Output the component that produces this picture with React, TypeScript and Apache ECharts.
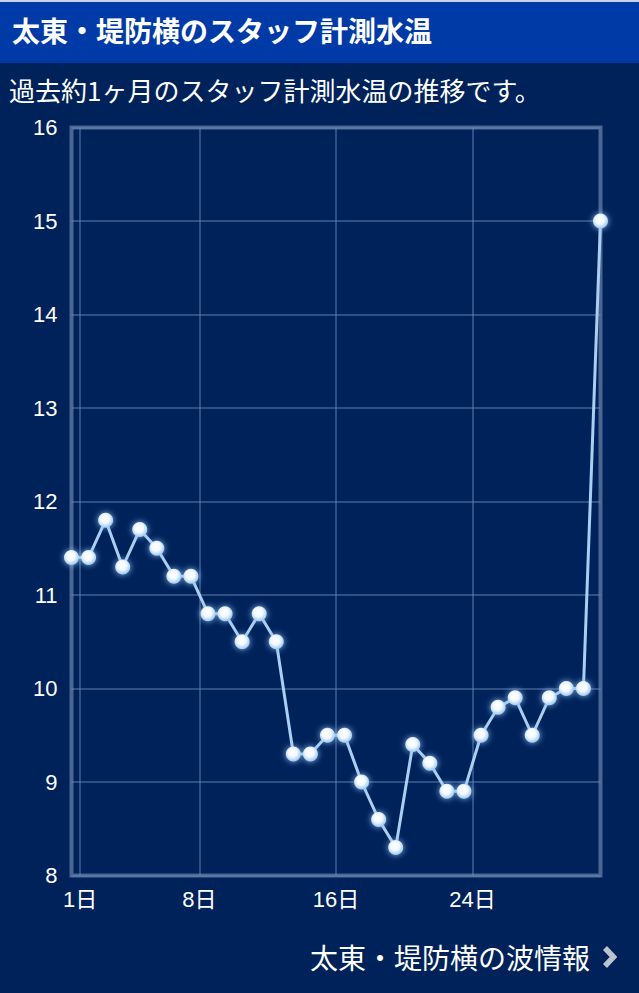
import React, { useEffect, useRef } from "react";
import * as echarts from "echarts";

const titleText = "太東・堤防横のスタッフ計測水温";
const subtitleText = "過去約1ヶ月のスタッフ計測水温の推移です。";
const footerText = "太東・堤防横の波情報";

// day offsets from the 1st (00:00); readings taken around noon each day
const dayOffsets = [
  -0.5, 0.5, 1.5, 2.5, 3.5, 4.5, 5.5, 6.5, 7.5, 8.5, 9.5, 10.5, 11.5, 12.5, 13.5, 14.5,
  15.5, 16.5, 17.5, 18.5, 19.5, 20.5, 21.5, 22.5, 23.5, 24.5, 25.5, 26.5, 27.5, 28.5, 29.5, 30.5,
];
const temps = [
  11.4, 11.4, 11.8, 11.3, 11.7, 11.5, 11.2, 11.2, 10.8, 10.8, 10.5, 10.8, 10.5, 9.3, 9.3, 9.5,
  9.5, 9.0, 8.6, 8.3, 9.4, 9.2, 8.9, 8.9, 9.5, 9.8, 9.9, 9.5, 9.9, 10.0, 10.0, 15.0,
];
const xTickOffsets = [0, 7, 15, 23];
const xTickLabels = ["1日", "8日", "16日", "24日"];

const BG = "#00225a";
const HEADER = "#003aa6";
const CJK = "'Noto Sans CJK JP', sans-serif";
const NUM = "'Liberation Sans', Arial, 'Noto Sans CJK JP', sans-serif";

export default function App() {
  const ref = useRef<HTMLDivElement>(null);
  useEffect(() => {
    document.body.style.margin = "0";
    document.body.style.background = BG;
    const chart = echarts.init(ref.current!, undefined, { renderer: "svg" });
    const markerColor = new echarts.graphic.RadialGradient(0.45, 0.4, 0.6, [
      { offset: 0, color: "#ffffff" },
      { offset: 0.5, color: "#f2f8ff" },
      { offset: 1, color: "#9bc7f0" },
    ]);
    chart.setOption({
      animation: false,
      backgroundColor: BG,
      graphic: [
        { type: "rect", shape: { x: 0, y: 0, width: 639, height: 63 }, style: { fill: HEADER }, z: 0 },
        { type: "rect", shape: { x: 0, y: 0, width: 639, height: 2 }, style: { fill: "#c9d2e4" }, z: 1 },
        {
          type: "text",
          x: 12,
          y: 30,
          style: {
            text: titleText,
            fill: "#ffffff",
            font: `bold 28px ${CJK}`,
            textVerticalAlign: "middle",
          },
          z: 2,
        },
        {
          type: "text",
          x: 9,
          y: 89,
          style: {
            text: subtitleText,
            fill: "#ffffff",
            font: `26px ${CJK}`,
            textVerticalAlign: "middle",
          },
          z: 2,
        },
        {
          type: "text",
          x: 590,
          y: 957,
          style: {
            text: footerText,
            fill: "#ffffff",
            font: `28px ${CJK}`,
            textAlign: "right",
            textVerticalAlign: "middle",
          },
          z: 2,
        },
        {
          type: "polyline",
          shape: { points: [[605, 948], [613.5, 957], [605, 966]] },
          style: { stroke: "#bcc2ce", lineWidth: 5.5, fill: "none", lineCap: "butt", lineJoin: "miter" },
          z: 2,
        },
      ],
      grid: {
        left: 71.5,
        top: 127.5,
        width: 529,
        height: 748,
        show: true,
        borderColor: "#4a6690",
        borderWidth: 4,
        backgroundColor: "transparent",
      },
      xAxis: {
        type: "value",
        min: -0.5,
        max: 30.5,
        axisLine: { show: false },
        axisTick: { show: false, customValues: xTickOffsets },
        axisLabel: {
          customValues: xTickOffsets,
          formatter: (v: number) => xTickLabels[xTickOffsets.indexOf(Math.round(v))] ?? "",
          color: "#ffffff",
          fontSize: 22,
          fontFamily: NUM,
          margin: 13,
        },
        splitLine: { show: true, lineStyle: { color: "rgba(115,145,190,0.42)", width: 2 } },
      },
      yAxis: {
        type: "value",
        min: 8,
        max: 16,
        interval: 1,
        axisLine: { show: false },
        axisTick: { show: false },
        axisLabel: { color: "#ffffff", fontSize: 22, fontFamily: NUM, margin: 14 },
        splitLine: { show: true, lineStyle: { color: "rgba(115,145,190,0.42)", width: 2 } },
      },
      series: [
        {
          type: "line",
          data: dayOffsets.map((d, i) => [d, temps[i]]),
          symbol: "circle",
          symbolSize: 15,
          showAllSymbol: true,
          lineStyle: { color: "#aacff2", width: 3 },
          itemStyle: {
            color: markerColor,
            borderWidth: 0,
            shadowBlur: 6,
            shadowColor: "rgba(150,200,250,0.9)",
          },
          emphasis: { disabled: true },
          silent: true,
          clip: false,
        },
      ],
    });
    return () => chart.dispose();
  }, []);
  return <div ref={ref} style={{ width: 639, height: 993 }} />;
}
